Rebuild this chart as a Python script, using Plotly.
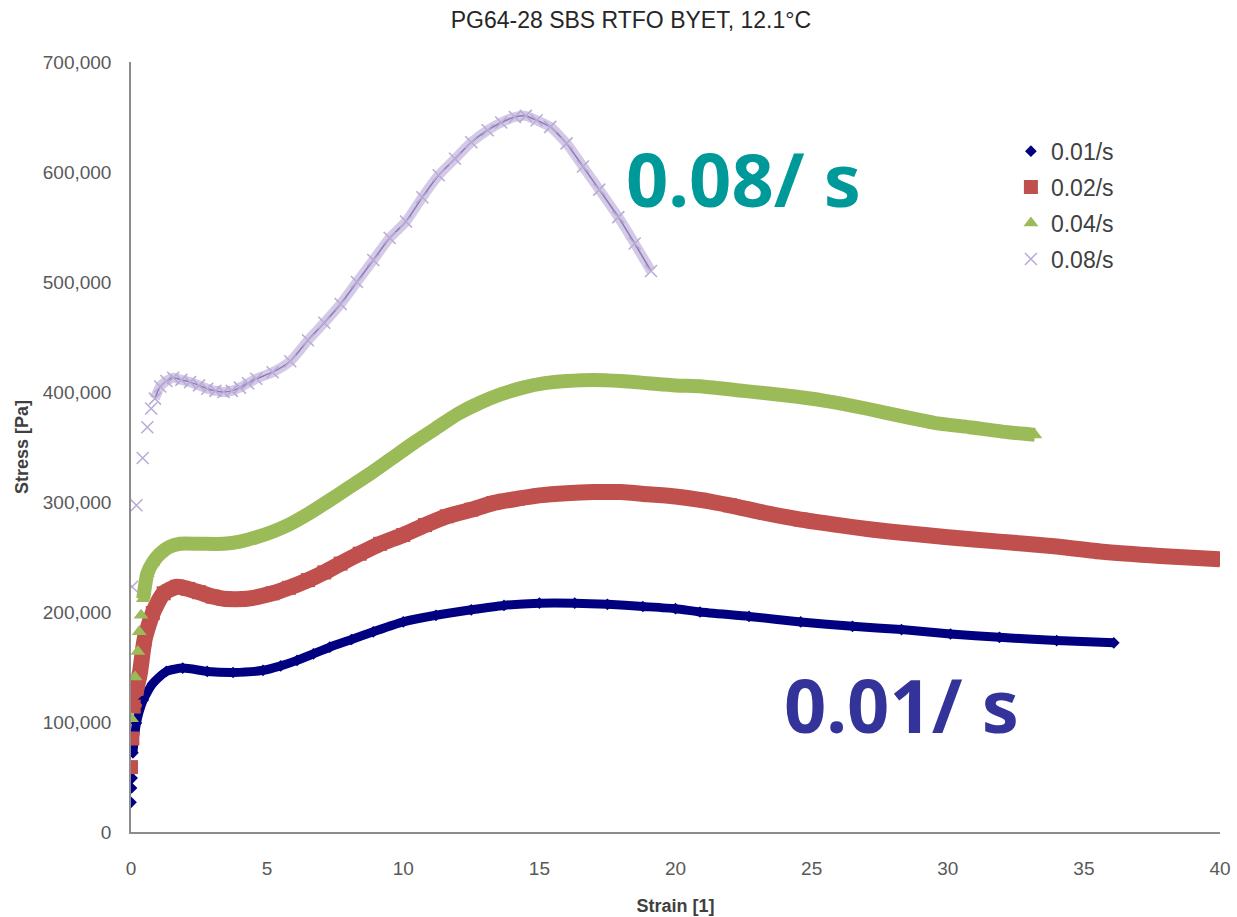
import plotly.graph_objects as go

# ---------------- data ----------------
series_names = ["0.01/s", "0.02/s", "0.04/s", "0.08/s"]

strain_001 = [0.0, 0.02, 0.04, 0.05, 0.07, 0.2, 0.45, 0.8, 1.3, 1.9, 2.8, 3.75, 4.85, 5.5, 6.1,
              6.7, 7.3, 8.1, 8.9, 10.0, 11.2, 12.5, 13.7, 15.0, 16.3, 17.5, 18.8, 20.0, 20.9,
              22.7, 24.6, 26.5, 28.3, 30.1, 31.9, 34.0, 36.1]
stress_001 = [27000, 40000, 49000, 56000, 72000, 99000, 120000, 135000, 146000, 149000, 146000,
              145000, 147000, 151000, 156000, 162000, 168000, 175000, 182000, 191000, 197000,
              202000, 206000, 208000, 208000, 207000, 205000, 203000, 200000, 196000, 191000,
              187000, 184000, 180000, 177000, 174000, 172000]

strain_002 = [0.0, 0.05, 0.1, 0.2, 0.33, 0.5, 0.8, 1.2, 1.7, 2.1, 2.5, 3.0, 3.4, 4.25, 5.2, 5.8,
              6.5, 7.1, 7.7, 8.4, 9.15, 10.0, 10.8, 11.6, 12.5, 13.3, 14.2, 15.0, 16.0, 17.0,
              18.0, 19.0, 20.0, 20.9, 22.0, 23.3, 24.6, 26.0, 27.2, 28.3, 30.0, 31.9, 33.8,
              35.6, 37.8, 40.0]
stress_002 = [59000, 85000, 114000, 130000, 145000, 175000, 199000, 217000, 223000, 221000,
              218000, 214000, 212000, 212000, 217000, 222000, 229000, 236000, 244000, 253000,
              262000, 270000, 279000, 287000, 293000, 299000, 303000, 306000, 308000, 309000,
              309000, 307000, 305000, 302000, 297000, 290000, 284000, 279000, 275000, 272000,
              268000, 264000, 260000, 255000, 251000, 248000]

strain_004 = [0.02, 0.15, 0.25, 0.3, 0.37, 0.45, 0.6, 0.8, 1.07, 1.4, 1.8, 2.5, 3.4, 4.0, 4.6,
              5.2, 5.85, 6.5, 7.2, 8.0, 8.8, 9.6, 10.4, 11.2, 12.0, 12.8, 13.6, 14.4, 15.2,
              16.0, 17.0, 18.0, 19.0, 20.0, 21.0, 22.5, 24.0, 25.5, 27.0, 28.3, 29.5, 30.8,
              32.0, 33.2]
stress_004 = [103000, 141000, 164000, 182000, 197000, 212000, 235000, 245000, 253000, 259000,
              262000, 262000, 262000, 264000, 268000, 273000, 280000, 289000, 300000, 313000,
              326000, 340000, 354000, 367000, 380000, 390000, 398000, 404000, 408000, 410000,
              411000, 410000, 408000, 406000, 405000, 401000, 397000, 392000, 385000, 378000,
              372000, 368000, 364000, 361000]

strain_008 = [0.04, 0.2, 0.43, 0.6, 0.74, 0.88, 1.07, 1.3, 1.55, 1.85, 2.17, 2.5, 2.8, 3.1, 3.4,
              3.7, 4.0, 4.3, 4.6, 5.2, 5.85, 6.5, 7.1, 7.7, 8.3, 8.9, 9.5, 10.1, 10.7, 11.3,
              11.9, 12.5, 13.1, 13.6, 14.1, 14.5, 14.9, 15.4, 16.0, 16.6, 17.2, 17.9, 18.5, 19.1]
stress_008 = [223000, 297000, 340000, 368000, 385000, 394000, 405000, 410000, 413000, 411000,
              409000, 406000, 403000, 401000, 400000, 401000, 404000, 408000, 412000, 418000,
              428000, 447000, 463000, 480000, 500000, 520000, 540000, 555000, 577000, 597000,
              612000, 627000, 638000, 645000, 650000, 651000, 647000, 641000, 626000, 605000,
              584000, 559000, 535000, 510000]

# index where the recorded points become dense enough to merge into a ribbon
dense_start = [4, 2, 5, 5]

x_ticks = [0, 5, 10, 15, 20, 25, 30, 35, 40]
y_ticks = [0, 100000, 200000, 300000, 400000, 500000, 600000, 700000]

title_text = "PG64-28 SBS RTFO BYET, 12.1°C"
x_title = "Strain [1]"
y_title = "Stress [Pa]"
label_fast = "0.08/ s"
label_slow = "0.01/ s"

# ---------------- figure ----------------
FONT = "Liberation Sans, Arial, sans-serif"

fig = go.Figure()

band_specs = [
    (strain_001, stress_001, dense_start[0], "#000080", 9),
    (strain_002, stress_002, dense_start[1], "#C0504D", 16),
    (strain_004, stress_004, dense_start[2], "#9BBB59", 14),
]
for i, (xs, ys, k, col, w) in enumerate(band_specs):
    fig.add_trace(go.Scatter(x=xs[k:], y=ys[k:], mode="lines", showlegend=False,
                             hoverinfo="skip", legendgroup="g%d" % i,
                             line=dict(color=col, width=w, shape="spline", smoothing=0.6)))

fig.add_trace(go.Scatter(x=strain_001, y=stress_001, mode="markers", name=series_names[0],
                         legendgroup="g0",
                         marker=dict(symbol="diamond", size=9, color="#000080")))
fig.add_trace(go.Scatter(x=strain_002, y=stress_002, mode="markers", name=series_names[1],
                         legendgroup="g1",
                         marker=dict(symbol="square", size=14, color="#C0504D")))
fig.add_trace(go.Scatter(x=strain_004, y=stress_004, mode="markers", name=series_names[2],
                         legendgroup="g2",
                         marker=dict(symbol="triangle-up", size=13, color="#9BBB59")))
# purple: light crosses with a darker core
k = dense_start[3]
fig.add_trace(go.Scatter(x=strain_008[k:], y=stress_008[k:], mode="lines", showlegend=False,
                         hoverinfo="skip", legendgroup="g3",
                         line=dict(color="rgba(196,184,222,0.75)", width=10, shape="spline",
                                   smoothing=0.6)))
fig.add_trace(go.Scatter(x=strain_008[k:], y=stress_008[k:], mode="lines", showlegend=False,
                         hoverinfo="skip", legendgroup="g3",
                         line=dict(color="#8f79bb", width=1.5, shape="spline", smoothing=0.6)))
fig.add_trace(go.Scatter(x=strain_008, y=stress_008, mode="markers", name=series_names[3],
                         legendgroup="g3",
                         marker=dict(symbol="x-thin", size=12, color="#B9AAD6",
                                     line=dict(width=1.5, color="#B9AAD6"))))

fig.add_annotation(x=22.5, y=594000, xref="x", yref="y", text="<b>%s</b>" % label_fast,
                   showarrow=False, font=dict(family="Noto Sans", size=74, color="#009999"),
                   xanchor="center", yanchor="middle")
fig.add_annotation(x=28.3, y=116000, xref="x", yref="y", text="<b>%s</b>" % label_slow,
                   showarrow=False, font=dict(family="Noto Sans", size=74, color="#333399"),
                   xanchor="center", yanchor="middle")

fig.update_layout(
    width=1237, height=917,
    paper_bgcolor="white", plot_bgcolor="white",
    margin=dict(l=131, r=17, t=62, b=85, autoexpand=False),
    font=dict(family=FONT, size=18, color="#595959"),
    title=dict(text=title_text, x=0.51, xanchor="center", y=0.978, yanchor="middle",
               font=dict(family=FONT, size=23, color="#262626")),
    legend=dict(x=0.808, y=0.912, xanchor="left", yanchor="top", itemwidth=30,
                bgcolor="rgba(0,0,0,0)", font=dict(family=FONT, size=23, color="#404040"),
                traceorder="grouped", tracegroupgap=3, itemsizing="trace"),
    showlegend=True,
)
fig.update_xaxes(range=[0, 40], tickvals=x_ticks, showgrid=False, zeroline=False,
                 showline=True, linecolor="#8c8c8c", linewidth=1.5,
                 ticks="outside", ticklen=18, tickcolor="rgba(0,0,0,0)",
                 tickfont=dict(family=FONT, size=19, color="#595959"),
                 title=dict(text="<b>%s</b>" % x_title, standoff=22,
                            font=dict(family=FONT, size=18, color="#404040")))
fig.update_yaxes(range=[0, 700000], tickvals=y_ticks, tickformat=",d", showgrid=False,
                 zeroline=False, showline=True, linecolor="#8c8c8c", linewidth=1.5,
                 ticks="outside", ticklen=14, tickcolor="rgba(0,0,0,0)",
                 tickfont=dict(family=FONT, size=19, color="#595959"),
                 title=dict(text="<b>%s</b>" % y_title, standoff=9,
                            font=dict(family=FONT, size=18, color="#404040")))

fig.write_html("out.html")
